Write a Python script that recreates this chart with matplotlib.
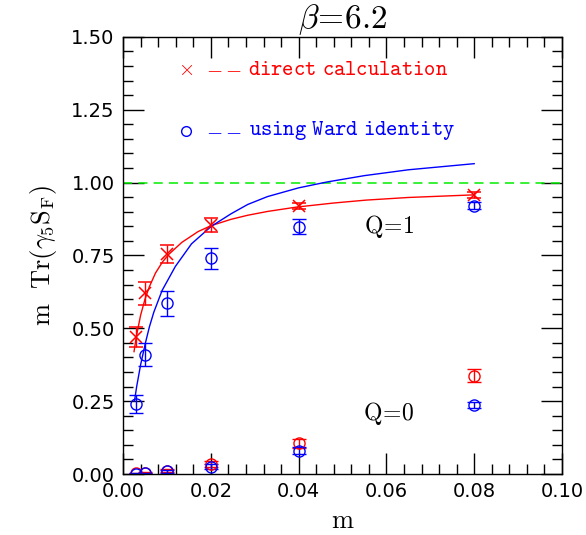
import matplotlib
matplotlib.use("Agg")
import matplotlib.pyplot as plt
from matplotlib.ticker import MultipleLocator, FormatStrFormatter

plt.rcParams['mathtext.fontset'] = 'cm'

# ---- data ----
m = [0.003, 0.005, 0.01, 0.02, 0.04, 0.08]
q1_direct = [0.47, 0.62, 0.755, 0.855, 0.92, 0.958]
q1_direct_err = [0.035, 0.04, 0.03, 0.025, 0.01, 0.01]
q1_ward = [0.24, 0.41, 0.586, 0.74, 0.849, 0.92]
q1_ward_err = [0.03, 0.04, 0.043, 0.037, 0.027, 0.012]
q0_direct = [0.002, 0.005, 0.012, 0.035, 0.105, 0.337]
q0_direct_err = [0.002, 0.003, 0.006, 0.01, 0.015, 0.022]
q0_ward = [0.001, 0.003, 0.009, 0.025, 0.08, 0.237]
q0_ward_err = [0.001, 0.002, 0.005, 0.008, 0.012, 0.01]

red_fit_m = [0.0025, 0.003, 0.004, 0.005, 0.006, 0.0074, 0.009, 0.0105, 0.0134,
             0.0171, 0.020, 0.0246, 0.0284, 0.0329, 0.0395, 0.048, 0.0554, 0.065, 0.08]
red_fit = [0.42, 0.47, 0.545, 0.60, 0.643, 0.69, 0.728, 0.755, 0.795,
           0.832, 0.852, 0.874, 0.888, 0.901, 0.916, 0.930, 0.940, 0.949, 0.958]
blue_fit_m = [0.0026, 0.0031, 0.0040, 0.0051, 0.006, 0.007, 0.0089, 0.0119, 0.0156,
              0.0201, 0.0246, 0.0284, 0.0329, 0.040, 0.0464, 0.055, 0.065, 0.08]
blue_fit = [0.25, 0.30, 0.375, 0.45, 0.505, 0.555, 0.63, 0.712, 0.79,
            0.85, 0.893, 0.925, 0.952, 0.982, 1.002, 1.024, 1.044, 1.065]

reference_level = 1.0
xticks = [0.00, 0.02, 0.04, 0.06, 0.08, 0.10]
yticks = [0.00, 0.25, 0.50, 0.75, 1.00, 1.25, 1.50]

RED = '#ff0000'
BLUE = '#0000ff'
GREEN = '#00ee00'

fig = plt.figure(figsize=(5.86, 5.35), dpi=100)
ax = fig.add_axes([0.210, 0.114, 0.749, 0.817])

ax.axhline(reference_level, color=GREEN, lw=1.1, ls=(0, (6, 4)))
ax.plot(red_fit_m, red_fit, color=RED, lw=1.0)
ax.plot(blue_fit_m, blue_fit, color=BLUE, lw=1.0)

ekw = dict(elinewidth=1.0, capsize=5, capthick=1.0, ls='none')
ax.errorbar(m, q1_direct, yerr=q1_direct_err, color=RED, marker='x', ms=9, mew=1.1, **ekw)
ax.errorbar(m, q1_ward, yerr=q1_ward_err, color=BLUE, marker='o', ms=8, mfc='none', mew=1.0, **ekw)
ax.errorbar(m, q0_direct, yerr=q0_direct_err, color=RED, marker='o', ms=8, mfc='none', mew=1.0, **ekw)
ax.errorbar(m, q0_ward, yerr=q0_ward_err, color=BLUE, marker='o', ms=8, mfc='none', mew=1.0, **ekw)

ax.set_xlim(0, 0.10)
ax.set_ylim(0, 1.5)
ax.set_xticks(xticks)
ax.set_yticks(yticks)
ax.xaxis.set_major_formatter(FormatStrFormatter('%.2f'))
ax.yaxis.set_major_formatter(FormatStrFormatter('%.2f'))
ax.xaxis.set_minor_locator(MultipleLocator(0.004))
ax.yaxis.set_minor_locator(MultipleLocator(0.05))
ax.tick_params(which='both', direction='in', top=True, right=True, labelsize=14, width=1.0)
ax.tick_params(which='major', length=15, pad=6)
ax.tick_params(which='minor', length=7)
for s in ax.spines.values():
    s.set_linewidth(1.0)

ax.set_xlabel(r'$\mathrm{m}$', fontsize=19, labelpad=5)
ax.set_ylabel(r'$\mathrm{m\ \ Tr(\gamma_5 S_F)}$', fontsize=19, labelpad=9)
ax.set_title(r'$\beta\!=\!6.2$', fontsize=24, pad=2)

ax.text(0.0143, 1.39, r'$\times$', color=RED, fontsize=15, ha='center', va='center')
ax.text(0.0190, 1.39, r'$\mathtt{--}$', color=RED, fontsize=15, ha='left', va='center')
ax.text(0.0284, 1.39, r'$\mathtt{direct\ calculation}$', color=RED, fontsize=15.5, ha='left', va='center')
ax.plot([0.0143], [1.178], marker='o', ms=7, mfc='none', mec=BLUE, mew=1.0)
ax.text(0.0190, 1.178, r'$\mathtt{--}$', color=BLUE, fontsize=15, ha='left', va='center')
ax.text(0.0288, 1.178, r'$\mathtt{using\ Ward\ identity}$', color=BLUE, fontsize=15.5, ha='left', va='center')

ax.text(0.0605, 0.849, r'$\mathrm{Q\!=\!1}$', fontsize=17, ha='center', va='center')
ax.text(0.0605, 0.208, r'$\mathrm{Q\!=\!0}$', fontsize=17, ha='center', va='center')

fig.savefig('out.png', dpi=100)
